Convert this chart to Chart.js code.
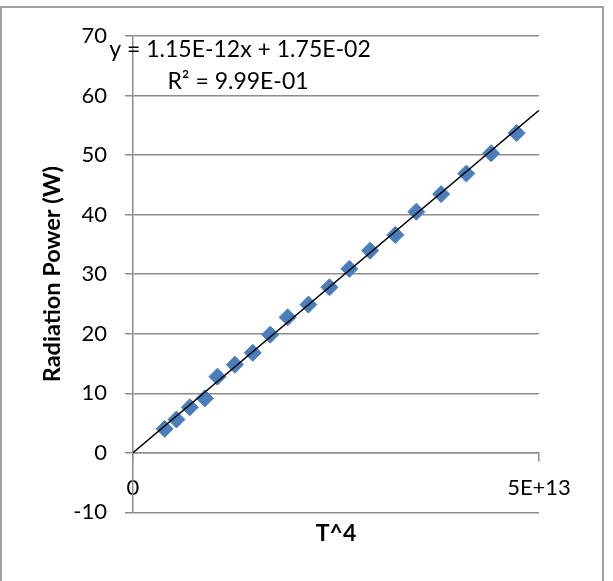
<!DOCTYPE html>
<html>
<head>
<meta charset="utf-8">
<script src="https://cdn.jsdelivr.net/npm/chart.js@4/dist/chart.umd.min.js"></script>
<style>
  html, body { margin: 0; padding: 0; background: #ffffff; }
  canvas { display: block; }
</style>
</head>
<body>
<canvas id="c" width="613" height="581"></canvas>
<script>
// ---- data ----
const tFourth = [3.9e12, 5.35e12, 7.0e12, 8.85e12, 1.04e13, 1.255e13, 1.475e13, 1.69e13, 1.905e13, 2.16e13,
                 2.42e13, 2.665e13, 2.92e13, 3.23e13, 3.49e13, 3.795e13, 4.105e13, 4.41e13, 4.725e13];
const radiationPower = [4.03, 5.6, 7.65, 9.15, 12.8, 14.8, 16.8, 19.85, 22.75, 24.9,
                        27.8, 30.9, 33.95, 36.6, 40.5, 43.45, 46.9, 50.3, 53.7];
const trendSlope = 1.15e-12;
const trendIntercept = 1.75e-2;
const trendX = [0, 5e13];
const xTickValues = [0, 5e13];
const xTickLabels = ["0", "5E+13"];
const yMin = -10, yMax = 70, yStep = 10;
const equationText = "y = 1.15E-12x + 1.75E-02";
const rSquaredText = "R\u00B2 = 9.99E-01";
const yTitle = "Radiation Power (W)";
const xTitle = "T^4";

const scatterPoints = tFourth.map((x, i) => ({ x: x, y: radiationPower[i] }));
const trendPoints = trendX.map(x => ({ x: x, y: trendSlope * x + trendIntercept }));

const gridColor = '#8c8c8c';

const frame = {
  id: 'frame',
  beforeDraw(chart) {
    const ctx = chart.ctx;
    ctx.save();
    ctx.fillStyle = '#ffffff';
    ctx.fillRect(0, 0, chart.width, chart.height);
    ctx.strokeStyle = '#a0a0a0';
    ctx.lineWidth = 2;
    ctx.strokeRect(1, 7, 602, 600);
    ctx.restore();
  }
};

const trendLabel = {
  id: 'trendLabel',
  afterDraw(chart) {
    const ctx = chart.ctx;
    const a = chart.chartArea;
    ctx.save();
    ctx.fillStyle = '#000000';
    ctx.font = '23px Lato';
    ctx.textAlign = 'center';
    ctx.textBaseline = 'middle';
    ctx.fillText(equationText, a.left + 107, a.top + 14);
    ctx.fillText(rSquaredText, a.left + 105, a.top + 46);
    ctx.restore();
  }
};

new Chart(document.getElementById('c'), {
  type: 'scatter',
  data: {
    datasets: [
      {
        label: 'trend',
        type: 'line',
        data: trendPoints,
        borderColor: '#000000',
        borderWidth: 1.5,
        pointRadius: 0,
        fill: false,
        order: 0
      },
      {
        label: 'data',
        data: scatterPoints,
        pointStyle: 'rectRot',
        pointRadius: 8.5,
        pointHoverRadius: 8.5,
        backgroundColor: '#4A7EBB',
        borderColor: '#4A7EBB',
        borderWidth: 1,
        order: 1
      }
    ]
  },
  options: {
    responsive: false,
    animation: false,
    layout: { padding: { left: 0, top: 36, right: 74, bottom: 34 } },
    plugins: {
      legend: { display: false },
      tooltip: { enabled: false },
      title: { display: false }
    },
    scales: {
      x: {
        type: 'linear',
        position: { y: 0 },
        min: 0,
        max: 5e13,
        afterBuildTicks: (s) => { s.ticks = xTickValues.map(v => ({ value: v })); },
        ticks: {
          autoSkip: false,
          maxRotation: 0,
          padding: 14,
          color: '#000000',
          font: { family: 'Lato', size: 22 },
          callback: (v, i) => xTickLabels[i]
        },
        grid: {
          display: true,
          drawOnChartArea: false,
          drawTicks: true,
          tickLength: 8,
          color: gridColor,
          lineWidth: 1.5
        },
        border: { display: true, color: gridColor, width: 1.5 }
      },
      xTitleAxis: {
        type: 'linear',
        axis: 'x',
        position: 'bottom',
        min: 0,
        max: 5e13,
        display: true,
        ticks: { display: false },
        grid: { display: false, drawTicks: false, drawOnChartArea: false },
        border: { display: false },
        title: {
          display: true,
          text: xTitle,
          color: '#000000',
          font: { family: 'Lato', size: 23, weight: 'bold' },
          padding: { top: 7, bottom: 0 }
        }
      },
      y: {
        type: 'linear',
        position: 'left',
        min: yMin,
        max: yMax,
        afterFit: (s) => { s.width = 133; },
        ticks: {
          stepSize: yStep,
          padding: 18,
          color: '#000000',
          font: { family: 'Lato', size: 22 }
        },
        grid: {
          color: gridColor,
          lineWidth: 1.5,
          drawTicks: true,
          tickLength: 8
        },
        border: { display: true, color: gridColor, width: 1.5 },
        title: {
          display: true,
          text: yTitle,
          color: '#000000',
          font: { family: 'Lato', size: 23.5, weight: 'bold' },
          padding: { top: 38, bottom: 0 }
        }
      }
    }
  },
  plugins: [frame, trendLabel]
});
</script>
</body>
</html>
